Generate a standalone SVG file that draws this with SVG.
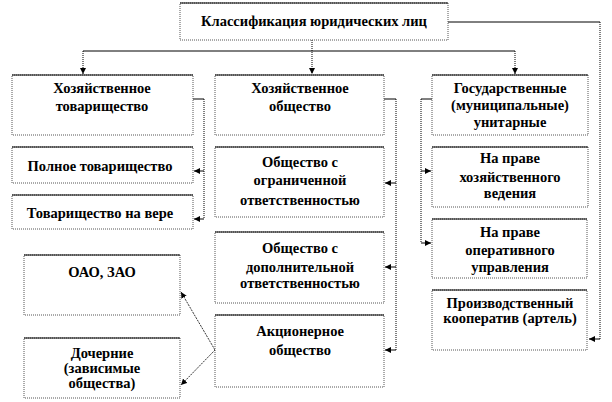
<svg xmlns="http://www.w3.org/2000/svg" width="612" height="402" viewBox="0 0 612 402">
<style>
.box{fill:#fff;stroke:#555;stroke-width:1;stroke-dasharray:1,1}
.top{stroke:#000;stroke-width:1}
.t{font-family:'Liberation Serif','DejaVu Serif',serif;font-weight:bold;font-size:14.5px;text-anchor:middle;fill:#000}
.h{stroke:#000;stroke-width:1;fill:none}
.v{stroke:#000;stroke-width:1;stroke-dasharray:1,1;fill:none}
.d{stroke:#000;stroke-width:0.8;stroke-dasharray:2,1;fill:none}
</style>
<defs>
<marker id="a" viewBox="0 0 6 6" refX="6" refY="3" markerWidth="6" markerHeight="6" orient="auto" markerUnits="userSpaceOnUse">
<path d="M0,0 L6,3 L0,6 Z" fill="#000"/>
</marker>
</defs>
<rect width="612" height="402" fill="#fff"/>
<g id="connectors">
<line class="v" x1="312" y1="40" x2="312" y2="74" marker-end="url(#a)"/>
<line class="h" x1="83" y1="51" x2="515" y2="51"/>
<line class="v" x1="83" y1="51" x2="83" y2="74" marker-end="url(#a)"/>
<line class="v" x1="515" y1="51" x2="515" y2="74" marker-end="url(#a)"/>
<line class="h" x1="448" y1="22" x2="600" y2="22"/>
<line class="v" x1="600" y1="22" x2="600" y2="339"/>
<line class="h" x1="600" y1="339" x2="589" y2="339" marker-end="url(#a)"/>
<line class="h" x1="193" y1="99" x2="204" y2="99"/>
<line class="v" x1="204" y1="99" x2="204" y2="219"/>
<line class="h" x1="204" y1="171" x2="194" y2="171" marker-end="url(#a)"/>
<line class="h" x1="204" y1="219" x2="194" y2="219" marker-end="url(#a)"/>
<line class="h" x1="384" y1="99" x2="396" y2="99"/>
<line class="v" x1="396" y1="99" x2="396" y2="350"/>
<line class="h" x1="396" y1="183" x2="385" y2="183" marker-end="url(#a)"/>
<line class="h" x1="396" y1="267" x2="385" y2="267" marker-end="url(#a)"/>
<line class="h" x1="396" y1="350" x2="385" y2="350" marker-end="url(#a)"/>
<line class="h" x1="432" y1="99" x2="421" y2="99"/>
<line class="v" x1="421" y1="99" x2="421" y2="243"/>
<line class="h" x1="421" y1="171" x2="431" y2="171" marker-end="url(#a)"/>
<line class="h" x1="421" y1="243" x2="431" y2="243" marker-end="url(#a)"/>
<line class="d" x1="215" y1="350" x2="181" y2="292" marker-end="url(#a)"/>
<line class="d" x1="215" y1="350" x2="181" y2="385" marker-end="url(#a)"/>
</g>
<g id="root">
<rect class="box" x="180" y="3" width="268" height="37"/><line class="top" x1="180" y1="3" x2="448" y2="3"/>
<text class="t" x="314" y="26">Классификация юридических лиц</text>
</g>
<g id="n1">
<rect class="box" x="12" y="75" width="181" height="60"/><line class="top" x1="12" y1="75" x2="193" y2="75"/>
<text class="t" x="102" y="93">Хозяйственное</text><text class="t" x="102" y="111">товарищество</text>
</g>
<g id="n2">
<rect class="box" x="215" y="75" width="169" height="60"/><line class="top" x1="215" y1="75" x2="384" y2="75"/>
<text class="t" x="300" y="93">Хозяйственное</text><text class="t" x="300" y="111">общество</text>
</g>
<g id="n3">
<rect class="box" x="432" y="75" width="156" height="60"/><line class="top" x1="432" y1="75" x2="588" y2="75"/>
<text class="t" x="510" y="93">Государственные</text><text class="t" x="510" y="110">(муниципальные)</text><text class="t" x="510" y="127">унитарные</text>
</g>
<g id="n4">
<rect class="box" x="12" y="147" width="181" height="36"/><line class="top" x1="12" y1="147" x2="193" y2="147"/>
<text class="t" x="100" y="171">Полное товарищество</text>
</g>
<g id="n5">
<rect class="box" x="12" y="195" width="181" height="34"/><line class="top" x1="12" y1="195" x2="193" y2="195"/>
<text class="t" x="100" y="218">Товарищество на вере</text>
</g>
<g id="n6">
<rect class="box" x="215" y="147" width="169" height="70"/><line class="top" x1="215" y1="147" x2="384" y2="147"/>
<text class="t" x="300" y="167">Общество с</text><text class="t" x="300" y="185">ограниченной</text><text class="t" x="300" y="205">ответственностью</text>
</g>
<g id="n7">
<rect class="box" x="215" y="232" width="169" height="71"/><line class="top" x1="215" y1="232" x2="384" y2="232"/>
<text class="t" x="300" y="253">Общество с</text><text class="t" x="300" y="272">дополнительной</text><text class="t" x="300" y="288">ответственностью</text>
</g>
<g id="n8">
<rect class="box" x="215" y="315" width="169" height="72"/><line class="top" x1="215" y1="315" x2="384" y2="315"/>
<text class="t" x="300" y="336">Акционерное</text><text class="t" x="300" y="355">общество</text>
</g>
<g id="n9">
<rect class="box" x="432" y="147" width="156" height="60"/><line class="top" x1="432" y1="147" x2="588" y2="147"/>
<text class="t" x="510" y="163">На праве</text><text class="t" x="510" y="182">хозяйственного</text><text class="t" x="510" y="198">ведения</text>
</g>
<g id="n10">
<rect class="box" x="432" y="219" width="155" height="59"/><line class="top" x1="432" y1="219" x2="587" y2="219"/>
<text class="t" x="510" y="237">На праве</text><text class="t" x="510" y="255">оперативного</text><text class="t" x="510" y="272">управления</text>
</g>
<g id="n11">
<rect class="box" x="432" y="290" width="155" height="60"/><line class="top" x1="432" y1="290" x2="587" y2="290"/>
<text class="t" x="510" y="308">Производственный</text><text class="t" x="510" y="323">кооператив (артель)</text>
</g>
<g id="n12">
<rect class="box" x="24" y="255" width="156" height="60"/><line class="top" x1="24" y1="255" x2="180" y2="255"/>
<text class="t" x="102" y="277">ОАО, ЗАО</text>
</g>
<g id="n13">
<rect class="box" x="24" y="338" width="156" height="60"/><line class="top" x1="24" y1="338" x2="180" y2="338"/>
<text class="t" x="102" y="358">Дочерние</text><text class="t" x="102" y="373">(зависимые</text><text class="t" x="102" y="388">общества)</text>
</g>
</svg>
